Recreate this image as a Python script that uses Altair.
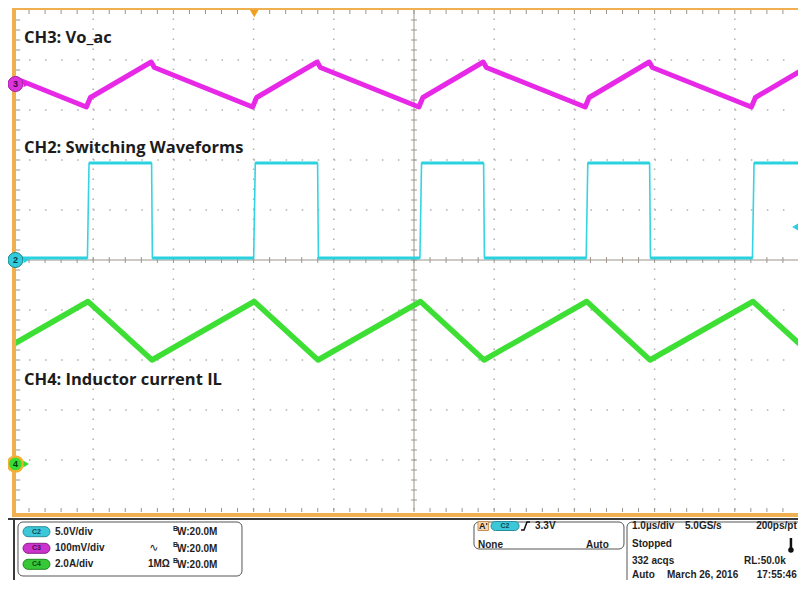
import altair as alt
import pandas as pd

# ---------------- waveform data: time in divisions (1.0 us/div) from left edge, level in divisions ----
ch2_t = [0.0, 0.928, 0.948, 1.728, 1.738, 3.001, 3.021, 3.798, 3.808, 5.074, 5.094,
         5.868, 5.878, 7.147, 7.167, 7.938, 7.948, 9.220, 9.240, 10.0]
ch2_v = [5.04, 5.04, 6.94, 6.94, 5.04, 5.04, 6.94, 6.94, 5.04, 5.04, 6.94,
         6.94, 5.04, 5.04, 6.94, 6.94, 5.04, 5.04, 6.94, 6.94]

ch3_t = [0.0, 0.915, 0.965, 1.723, 1.763, 2.988, 3.038, 3.793, 3.833, 5.061, 5.111,
         5.863, 5.903, 7.134, 7.184, 7.933, 7.973, 9.207, 9.257, 10.0]
ch3_v = [8.65, 8.06, 8.25, 8.96, 8.85, 8.06, 8.25, 8.96, 8.85, 8.06, 8.25,
         8.96, 8.85, 8.06, 8.25, 8.96, 8.85, 8.06, 8.25, 8.95]

ch4_t = [0.0, 0.935, 1.733, 3.008, 3.803, 5.081, 5.873, 7.154, 7.943, 9.227, 10.0]
ch4_v = [3.31, 4.17, 3.00, 4.17, 3.00, 4.17, 3.00, 4.17, 3.00, 4.17, 3.04]

channel_labels = ["CH3: Vo_ac", "CH2: Switching Waveforms", "CH4: Inductor current IL"]
label_y = [9.434, 7.25, 2.61]

grid_divs = [1, 2, 3, 4, 6, 7, 8, 9]
minor = [round(0.2 * k, 2) for k in range(1, 50)]

# status panel texts (left aligned)
stat_text = ["5.0V/div", "100mV/div", "2.0A/div",
             "W:20.0M", "W:20.0M", "W:20.0M", "1M\u03a9",
             "3.3V", "None", "Auto",
             "1.0\u00b5s/div", "5.0GS/s", "Stopped", "332 acqs", "RL:50.0k",
             "Auto", "March 26, 2016"]
stat_x = [0.524, 0.524, 0.524,
          2.045, 2.045, 2.045, 1.683,
          6.509, 5.798, 7.145,
          7.718, 8.379, 7.718, 7.718, 9.115,
          7.718, 8.155]
stat_y = [-0.434, -0.766, -1.086,
          -0.444, -0.776, -1.096, -1.086,
          -0.32, -0.69, -0.69,
          -0.32, -0.32, -0.68, -1.02, -1.02,
          -1.30, -1.30]
# status panel texts (right aligned at the visible edge)
stat_r_text = ["200ps/pt", "17:55:46"]
stat_r_x = [9.772, 9.772]
stat_r_y = [-0.32, -1.30]

# ---------------- scales ----------------
W, H = 790, 572
xs = alt.Scale(domain=[-5 / 80.2, 785 / 80.2], nice=False, zero=False)
ys = alt.Scale(domain=[(510 - 580) / 50, 10.04], nice=False, zero=False)


def X(f="x"):
    return alt.X(f"{f}:Q", scale=xs, axis=None)


def Y(f="y"):
    return alt.Y(f"{f}:Q", scale=ys, axis=None)


def rules(rows, color, width, dash=None, cap="butt"):
    df = pd.DataFrame(rows, columns=["x", "y", "x2", "y2"])
    kw = dict(color=color, strokeWidth=width, strokeCap=cap)
    if dash:
        kw["strokeDash"] = dash
    return alt.Chart(df).mark_rule(**kw).encode(
        x=X("x"), y=Y("y"), x2=alt.X2("x2"), y2=alt.Y2("y2"))


def texts(df, font="Liberation Sans", weight="bold", align="left"):
    return alt.Chart(df).mark_text(align=align, baseline="middle", font=font, fontWeight=weight).encode(
        x=X("x"), y=Y("y"), text=alt.Text("text:N"),
        size=alt.Size("size:Q", scale=None, legend=None),
        color=alt.Color("color:N", scale=None, legend=None))


def trace(t, v, color, width, opacity=0.95):
    df = pd.DataFrame({"x": t, "y": v, "i": list(range(len(t)))})
    return alt.Chart(df).mark_line(color=color, strokeWidth=width, strokeJoin="round",
                                   opacity=opacity).encode(
        x=X("x"), y=Y("y"), order=alt.Order("i:Q"))


def points(df):
    return alt.Chart(df).mark_point(filled=True, opacity=1).encode(
        x=X("x"), y=Y("y"),
        shape=alt.Shape("shape:N", scale=None, legend=None),
        size=alt.Size("size:Q", scale=None, legend=None),
        fill=alt.Fill("fill:N", scale=None, legend=None),
        stroke=alt.Stroke("stroke:N", scale=None, legend=None),
        strokeWidth=alt.StrokeWidth("sw:Q", scale=None, legend=None))


def rects(df, radius):
    return alt.Chart(df).mark_rect(cornerRadius=radius).encode(
        x=X("x"), y=Y("y"), x2=alt.X2("x2"), y2=alt.Y2("y2"),
        fill=alt.Fill("fill:N", scale=None, legend=None),
        stroke=alt.Stroke("stroke:N", scale=None, legend=None),
        strokeWidth=alt.StrokeWidth("sw:Q", scale=None, legend=None))


layers = []

# dotted graticule
layers.append(rules([(g, 0, g, 10) for g in grid_divs], "#b0b0b0", 1.5, [1.5, 8.5]))
layers.append(rules([(0, g, 10, g) for g in grid_divs], "#b0b0b0", 1.5, [1.5, 14.54]))
# center crosshair
layers.append(rules([(5, 0, 5, 10), (0, 5, 10, 5)], "#9c948c", 1))
tick_rows = []
tick_rows += [(m, 10, m, 9.92) for m in minor]          # top
tick_rows += [(m, -0.04, m, 0.04) for m in minor]       # bottom
tick_rows += [(0.037, m, 0.09, m) for m in minor]       # left
tick_rows += [(m, 4.94, m, 5.06) for m in minor]        # center horizontal
tick_rows += [(4.963, m, 5.037, m) for m in minor]      # center vertical
layers.append(rules(tick_rows, "#9c948c", 1))

# waveforms
layers.append(trace(ch4_t, ch4_v, "#33dd2a", 5.5))
layers.append(trace(ch2_t, ch2_v, "#2ad2e0", 1.6))
flat = [(ch2_t[i], ch2_v[i], ch2_t[i + 1], ch2_v[i + 1])
        for i in range(len(ch2_t) - 1) if ch2_v[i] == ch2_v[i + 1]]
layers.append(rules(flat, "#2ad2e0", 3))
layers.append(trace(ch3_t, ch3_v, "#e61ee6", 5))

# orange border
layers.append(rules([(0.0125, -0.14, 0.0125, 10.06)], "#f0b050", 4))
layers.append(rules([(0.0, 10.03, 10.2, 10.03)], "#f0b050", 3))
layers.append(rules([(0.0, -0.1, 10.2, -0.1)], "#f0b050", 4))

# channel labels
lab = pd.DataFrame({"text": channel_labels, "x": [0.137] * 3, "y": label_y,
                    "size": [16.5] * 3, "color": ["#1c1c1c"] * 3})
layers.append(texts(lab, font="Open Sans", weight="bold"))

# markers: channel grounds, arrows, trigger markers
mk_x = 0.03
mk = pd.DataFrame({
    "x": [mk_x, mk_x, mk_x, 0.165, 0.165, 0.165, 3.008, 9.76],
    "y": [8.52, 5.0, 0.92, 8.52, 5.0, 0.92, 9.93, 5.66],
    "shape": ["circle", "circle", "circle", "triangle-right", "triangle-right", "triangle-right",
              "triangle-down", "triangle-left"],
    "size": [225, 225, 225, 40, 40, 40, 80, 70],
    "fill": ["#dd33dd", "#33ccdd", "#33dd33", "#e61ee6", "#2ad2e0", "#33dd2a", "#f0a020", "#2ad2e0"],
    "stroke": ["#a020a0", "#1a7f8a", "#f0b030", "#e61ee6", "#2ad2e0", "#33dd2a", "#f0a020", "#2ad2e0"],
    "sw": [1, 1, 2.5, 0, 0, 0, 0, 0],
})
layers.append(rules([(0.11, 0.92, 0.16, 0.92)], "#33dd2a", 2))
layers.append(points(mk))
digits = pd.DataFrame({"text": ["3", "2", "4"], "x": [mk_x] * 3, "y": [8.52, 5.0, 0.92],
                       "size": [9, 9, 9], "color": ["#3a0a3a", "#0a3a40", "#0a3a0a"]})
layers.append(texts(digits, align="center"))

# status panel frame lines
layers.append(rules([(-0.1, -0.18, 10.2, -0.18)], "#3a3a3a", 2))
layers.append(rules([(0.0125, -0.18, 0.0125, -1.9)], "#3a3a3a", 2))

boxes = pd.DataFrame({
    "x": [0.0623, 5.748, 7.656], "x2": [2.855, 7.618, 10.3],
    "y": [-0.24, -0.24, -0.24], "y2": [-1.32, -0.78, -1.95],
    "fill": ["#ffffff"] * 3, "stroke": ["#555555"] * 3, "sw": [1, 1, 1]})
layers.append(rects(boxes, 5))

pills = pd.DataFrame({
    "x": [0.125, 0.125, 0.125, 5.96], "x2": [0.461, 0.461, 0.461, 6.31],
    "y": [-0.334, -0.666, -0.986, -0.23], "y2": [-0.534, -0.866, -1.186, -0.41],
    "fill": ["#3cc8d8", "#cc33cc", "#36c836", "#3cc8d8"],
    "stroke": ["#2a8f9c", "#8a208a", "#208a20", "#2a8f9c"], "sw": [1, 1, 1, 1]})
layers.append(rects(pills, 5))
abox = pd.DataFrame({"x": [5.798], "x2": [5.93], "y": [-0.23], "y2": [-0.41],
                     "fill": ["#f8d8b0"], "stroke": ["#c89050"], "sw": [1]})
layers.append(rects(abox, 0))

pill_txt = pd.DataFrame({"text": ["C2", "C3", "C4", "C2", "A'"],
                         "x": [0.293, 0.293, 0.293, 6.135, 5.864],
                         "y": [-0.434, -0.766, -1.086, -0.32, -0.32],
                         "size": [7, 7, 7, 7, 9],
                         "color": ["#134650", "#4a0c4a", "#0f4a0f", "#134650", "#202020"]})
layers.append(texts(pill_txt, align="center"))

st = pd.DataFrame({"text": stat_text, "x": stat_x, "y": stat_y,
                   "size": [10] * len(stat_text), "color": ["#1e1e1e"] * len(stat_text)})
layers.append(texts(st))
st_r = pd.DataFrame({"text": stat_r_text, "x": stat_r_x, "y": stat_r_y,
                     "size": [10] * 2, "color": ["#1e1e1e"] * 2})
layers.append(texts(st_r, align="right"))
bsmall = pd.DataFrame({"text": ["B", "B", "B"], "x": [1.995] * 3, "y": [-0.37, -0.702, -1.022],
                       "size": [7] * 3, "color": ["#1e1e1e"] * 3})
layers.append(texts(bsmall))
acsym = pd.DataFrame({"text": ["\u223f"], "x": [1.70], "y": [-0.766], "size": [11], "color": ["#1e1e1e"]})
layers.append(texts(acsym, font="DejaVu Sans", weight="normal"))

# rising-edge trigger symbol
edge = pd.DataFrame({"x": [6.334, 6.372, 6.409, 6.446], "y": [-0.40, -0.40, -0.24, -0.24], "i": [0, 1, 2, 3]})
layers.append(alt.Chart(edge).mark_line(color="#111111", strokeWidth=1.5).encode(
    x=X("x"), y=Y("y"), order=alt.Order("i:Q")))

# thermometer icon
layers.append(rules([(9.70, -0.56, 9.70, -0.78)], "#111111", 2.5))
therm = pd.DataFrame({"x": [9.70], "y": [-0.80], "shape": ["circle"], "size": [30],
                      "fill": ["#111111"], "stroke": ["#111111"], "sw": [0]})
layers.append(points(therm))

chart = alt.layer(*layers).properties(
    width=W, height=H, padding=0,
    autosize=alt.AutoSizeParams(type="none"),
    background="#ffffff",
).configure_view(strokeWidth=0)

chart.save("out.html", embed_options={"renderer": "svg", "actions": False})
